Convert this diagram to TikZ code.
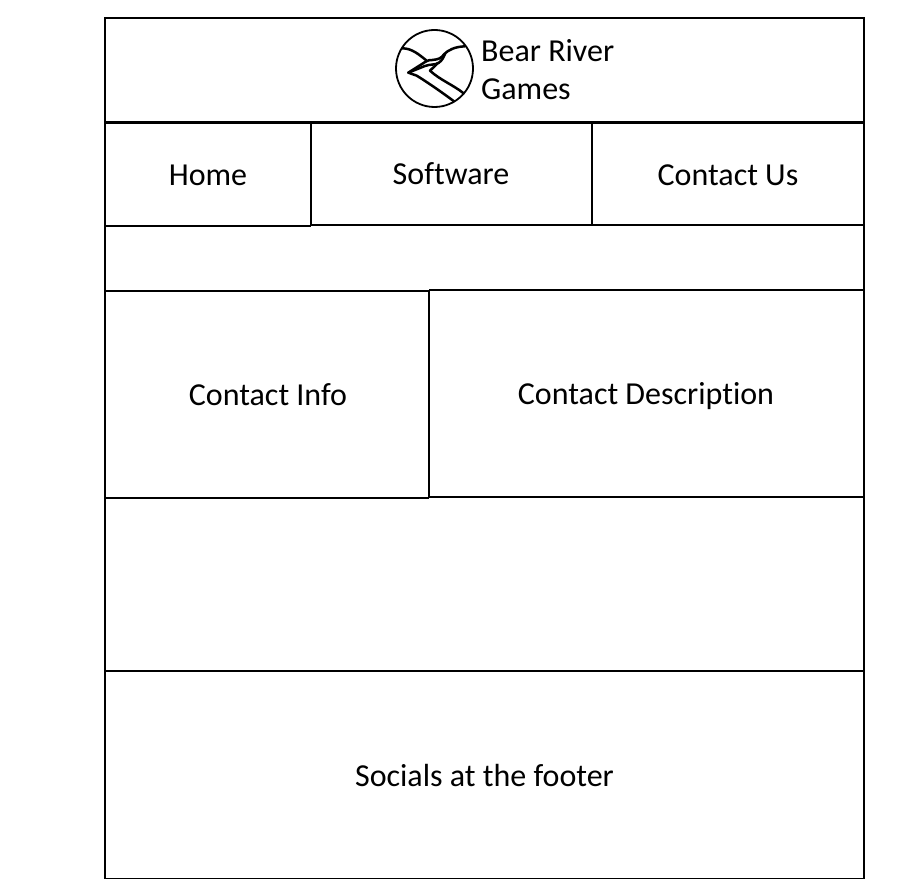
\documentclass[tikz,border=0pt]{standalone}
\usepackage{fontspec}
\setmainfont[Ligatures=NoCommon]{Carlito}
\begin{document}
\begin{tikzpicture}[x=1pt,y=-1pt,
  lbl/.style={font=\fontsize{32}{38}\selectfont,inner sep=0pt,text=black},
  ln/.style={line width=1.7pt,black},
  logo/.style={line width=2.5pt,black,line join=round,line cap=round}]
\useasboundingbox[fill=white] (0,0) rectangle (924,890);
\coordinate (tl) at (105,18); \coordinate (tr) at (864,18);
\coordinate (bl) at (105,878.5); \coordinate (br) at (864,878.5);
\draw[ln] (tl) -- (tr) -- (br) -- (bl) -- cycle;
\draw[ln,line width=2.2pt] (105,122.5) -- (864,122.5);
\draw[ln] (105,226) -- (311,226) (311,225) -- (864,225);
\draw[ln] (311,122.5) -- (311,226);
\draw[ln] (592,122.5) -- (592,226);
\draw[ln] (105,291) -- (429,291) (429,290) -- (864,290);
\draw[ln] (429,290) -- (429,498);
\draw[ln] (105,498) -- (429,498) (429,497) -- (864,497);
\draw[ln] (105,671) -- (864,671);
\node[lbl] (home) at (208,175) {Home};
\node[lbl] (soft) at (451,174) {Software};
\node[lbl] (cont) at (728,175) {Contact Us};
\node[lbl] (info) at (268,395) {Contact Info};
\node[lbl] (desc) at (646,396) {Contact Description};
\node[lbl] (foot) at (484.5,776) {Socials at the footer};
\node[lbl,anchor=west] (t1) at (481,51) {Bear River};
\node[lbl,anchor=west] (t2) at (481,89) {Games};
\draw[line width=1.8pt] (434.5,68.5) circle (38.5);
\begin{scope}[shift={(395,30)},x=0.3333pt,y=-0.3333pt]
\draw[logo] (22,55) .. controls (50,55) and (70,72) .. (95,92);
\draw[logo] (210,49) .. controls (180,50) and (160,60) .. (148,72)
  .. controls (138,86) and (130,88) .. (112,90) .. controls (105,90) and (100,90) .. (92,95)
  -- (40,128) -- (65,137) .. controls (95,155) and (145,190) .. (177,214);
\draw[logo] (40,128) -- (90,108) .. controls (105,102) and (120,106) .. (132,98)
  .. controls (142,90) and (146,82) .. (150,72);
\draw[logo] (128,100) -- (105,122) .. controls (135,150) and (175,165) .. (206,190);
\end{scope}
\end{tikzpicture}
\end{document}
